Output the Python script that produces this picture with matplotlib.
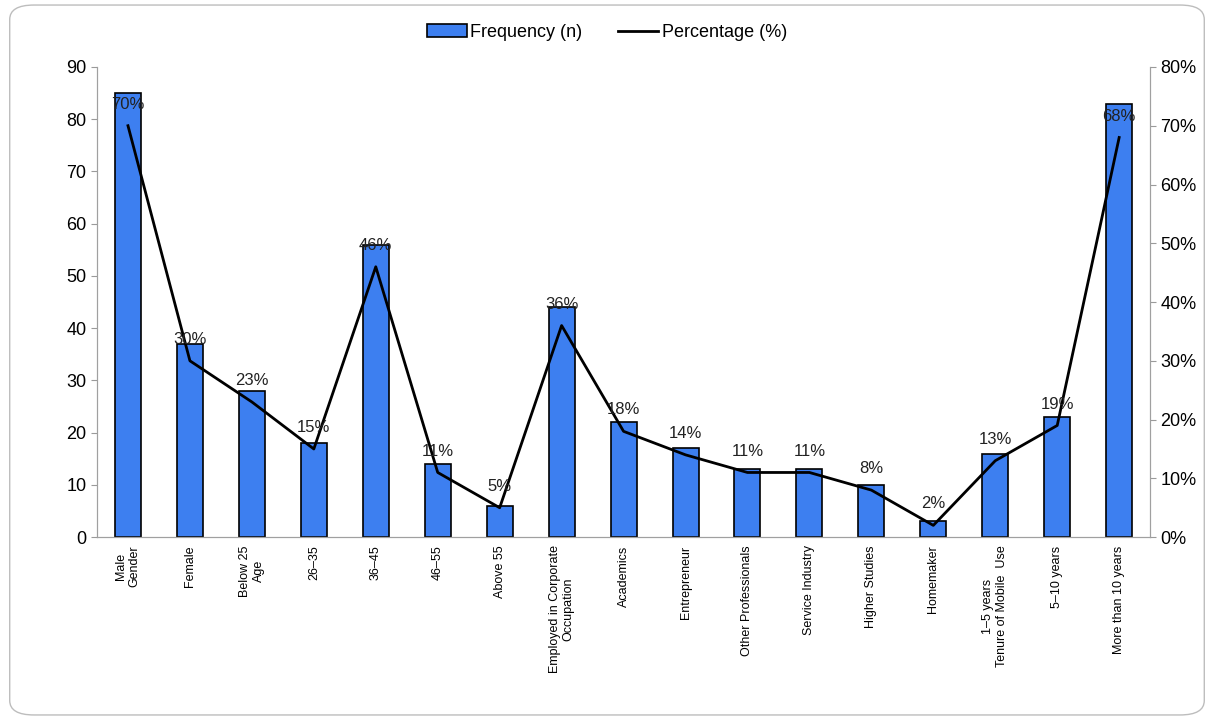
import matplotlib
matplotlib.use("Agg")
import matplotlib.pyplot as plt
from matplotlib.patches import FancyBboxPatch, Patch
from matplotlib.lines import Line2D
import numpy as np

plt.rcParams['font.family'] = ['Liberation Sans', 'DejaVu Sans']

categories = ["Male\nGender", "Female", "Below 25\nAge", "26–35", "36–45", "46–55",
              "Above 55", "Employed in Corporate\nOccupation", "Academics", "Entrepreneur",
              "Other Professionals", "Service Industry", "Higher Studies", "Homemaker",
              "1–5 years\nTenure of Mobile  Use", "5–10 years", "More than 10 years"]
frequency = [85, 37, 28, 18, 56, 14, 6, 44, 22, 17, 13, 13, 10, 3, 16, 23, 83]
percentage = [70, 30, 23, 15, 46, 11, 5, 36, 18, 14, 11, 11, 8, 2, 13, 19, 68]

fig = plt.figure(figsize=(12.14, 7.2), dpi=100)

# rounded frame around the whole chart
frame = FancyBboxPatch((0.008, 0.007), 0.984, 0.986, boxstyle="round,pad=0,rounding_size=0.02",
                       transform=fig.transFigure, facecolor="white", edgecolor="#bdbdbd",
                       linewidth=1.0, zorder=-10)
fig.patches.append(frame)

ax = fig.add_axes([0.0799, 0.254, 0.8675, 0.653])
ax.set_facecolor("none")
x = np.arange(len(categories))
ax.bar(x, frequency, width=0.42, color="#3d7ff0", edgecolor="black", linewidth=1.2, zorder=2)
ax.set_xlim(-0.5, len(categories) - 0.5)
ax.set_ylim(0, 90)
ax.set_yticks(range(0, 91, 10))
ax.set_xticks(x)
ax.set_xticklabels(categories, rotation=90, fontsize=9, ha="center", va="top",
                   multialignment="center")
ax.tick_params(axis="x", length=0, pad=6)
ax.tick_params(axis="y", labelsize=13, length=4, color="#9a9a9a")
ax.spines["top"].set_visible(False)
for side in ["left", "bottom", "right"]:
    ax.spines[side].set_color("#a0a0a0")

ax2 = ax.twinx()
ax2.plot(x, percentage, color="black", linewidth=2, zorder=3)
ax2.set_ylim(0, 80)
ax2.set_yticks(range(0, 81, 10))
ax2.set_yticklabels([f"{v}%" for v in range(0, 81, 10)])
ax2.tick_params(axis="y", labelsize=13, length=4, color="#9a9a9a")
ax2.spines["top"].set_visible(False)
for side in ["left", "bottom", "right"]:
    ax2.spines[side].set_color("#a0a0a0")
for xi, p in zip(x, percentage):
    ax2.annotate(f"{p}%", (xi, p), xytext=(0, 10), textcoords="offset points",
                 ha="center", va="bottom", fontsize=12, color="#222222", zorder=4)

handles = [Patch(facecolor="#3d7ff0", edgecolor="black", linewidth=1.2),
           Line2D([0], [0], color="black", linewidth=2)]
fig.legend(handles, ["Frequency (n)", "Percentage (%)"], loc="center",
           bbox_to_anchor=(0.5, 0.955), ncol=2, frameon=False, fontsize=13,
           handlelength=2.2, handletextpad=0.2, columnspacing=2.0)

fig.savefig("out.png", dpi=100)
